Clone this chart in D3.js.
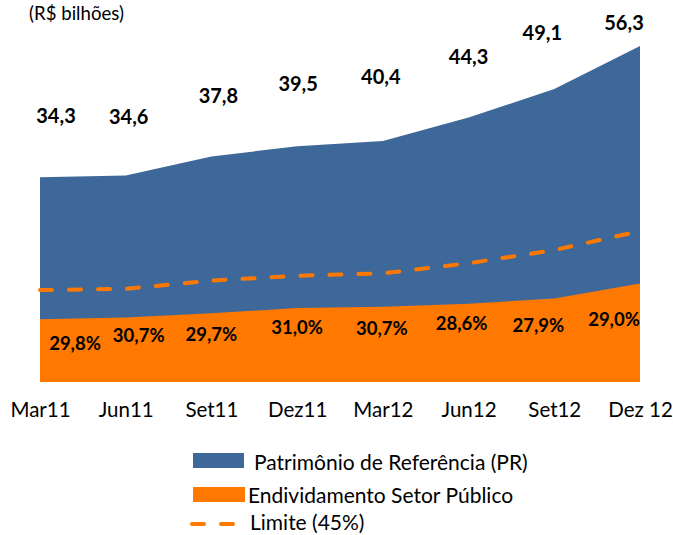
<!DOCTYPE html>
<html>
<head>
<meta charset="utf-8">
<script src="https://cdn.jsdelivr.net/npm/d3@7"></script>
<style>
  html, body { margin: 0; padding: 0; background: #fff; }
  svg { display: block; font-family: Lato, "Open Sans", sans-serif; }
</style>
</head>
<body>
<svg id="chart" width="673" height="535"></svg>
<script>
// ---- data ----
const categories = ["Mar11", "Jun11", "Set11", "Dez11", "Mar12", "Jun12", "Set12", "Dez 12"];
const patrimonio = [34.3, 34.6, 37.8, 39.5, 40.4, 44.3, 49.1, 56.3];
const endividamento = [10.5, 10.8, 11.5, 12.4, 12.6, 13.1, 14.0, 16.5];
const limite = [15.4, 15.6, 17.0, 17.8, 18.2, 19.9, 22.1, 25.3];
const percentuais = ["29,8%", "30,7%", "29,7%", "31,0%", "30,7%", "28,6%", "27,9%", "29,0%"];
const legendLabels = ["Patrimônio de Referência (PR)", "Endividamento Setor Público", "Limite (45%)"];
const unitLabel = "(R$ bilhões)";

// ---- layout (label nudges, in pixels) ----
const prLabelDx = [16, 3, 7, 1, -2, 0, -12, -16];
const prLabelDy = [-62, -60, -61, -63, -65, -62, -57, -24];
const pctLabelDx = [35, 13, 0, 0, -1, -7, -16, -26];
const pctLabelDy = [24, 17, 21, 19, 21, 19, 27, 35];

// ---- styles ----
const BLUE = "#3E6899";
const ORANGE = "#FF7800";

const svg = d3.select("#chart");
const x = d3.scalePoint().domain(categories).range([40, 640]);
const y = d3.scaleLinear().domain([0, 60]).range([382, 382 - 60 * 5.968]);

const rows = categories.map((c, i) => ({
  c, i, pr: patrimonio[i], end: endividamento[i], lim: limite[i], pct: percentuais[i]
}));

const fmt = d3.formatLocale({ decimal: ",", thousands: ".", grouping: [3], currency: ["R$", ""] }).format(".1f");

function fitFont(sel, target) {
  const node = sel.node();
  const fs = parseFloat(sel.attr("font-size"));
  const w = node.getComputedTextLength();
  if (w > 0) sel.attr("font-size", (fs * target / w).toFixed(2));
}

// areas
svg.append("path")
  .datum(rows)
  .attr("fill", BLUE)
  .attr("d", d3.area().x(d => x(d.c)).y0(y(0)).y1(d => y(d.pr)));

svg.append("path")
  .datum(rows)
  .attr("fill", ORANGE)
  .attr("d", d3.area().x(d => x(d.c)).y0(y(0)).y1(d => y(d.end)));

// limit dashed line
svg.append("path")
  .datum(rows)
  .attr("fill", "none")
  .attr("stroke", ORANGE)
  .attr("stroke-width", 4)
  .attr("stroke-linecap", "round")
  .attr("stroke-dasharray", "12 17")
  .attr("d", d3.line().x(d => x(d.c)).y(d => y(d.lim)));

// PR labels
svg.append("g").selectAll("text")
  .data(rows).join("text")
  .attr("x", d => x(d.c) + prLabelDx[d.i])
  .attr("y", d => y(d.pr) + prLabelDy[d.i])
  .attr("text-anchor", "middle")
  .attr("dominant-baseline", "central")
  .attr("font-weight", "bold")
  .attr("font-size", 20)
  .attr("fill", "#000")
  .text(d => fmt(d.pr));

// percent labels
svg.append("g").selectAll("text")
  .data(rows).join("text")
  .attr("x", d => x(d.c) + pctLabelDx[d.i])
  .attr("y", d => y(d.end) + pctLabelDy[d.i])
  .attr("text-anchor", "middle")
  .attr("dominant-baseline", "central")
  .attr("font-weight", "bold")
  .attr("font-size", 18.5)
  .attr("fill", "#000")
  .text(d => d.pct);

// x axis (labels only)
const xAxis = d3.axisBottom(x).tickSize(0).tickPadding(0);
const gx = svg.append("g").attr("transform", "translate(0,402)").call(xAxis);
gx.select(".domain").remove();
gx.selectAll("text")
  .attr("font-family", "Lato, sans-serif")
  .attr("font-size", 20.5)
  .attr("fill", "#000");

// unit label
const unit = svg.append("text")
  .attr("x", 29).attr("y", 13)
  .attr("dominant-baseline", "central")
  .attr("font-size", 16)
  .attr("fill", "#000")
  .text(unitLabel);
fitFont(unit, 95);

// legend
const lg = svg.append("g");
lg.append("rect").attr("x", 193).attr("y", 453).attr("width", 51).attr("height", 15).attr("fill", BLUE);
lg.append("rect").attr("x", 193).attr("y", 487).attr("width", 52).attr("height", 15).attr("fill", ORANGE);
lg.append("line").attr("x1", 192).attr("x2", 240).attr("y1", 524).attr("y2", 524)
  .attr("stroke", ORANGE).attr("stroke-width", 4).attr("stroke-linecap", "round").attr("stroke-dasharray", "12 17");
const legendPos = [[254, 461], [248, 494], [250, 521]];
const legTexts = lg.selectAll("text.leg").data(legendLabels).join("text")
  .attr("class", "leg")
  .attr("x", (d, i) => legendPos[i][0])
  .attr("y", (d, i) => legendPos[i][1])
  .attr("dominant-baseline", "central")
  .attr("font-size", 19)
  .attr("fill", "#000")
  .text(d => d);
// size legend font so the first entry spans the reference width
const first = d3.select(legTexts.nodes()[0]);
fitFont(first, 283);
legTexts.attr("font-size", Math.min(21, parseFloat(first.attr("font-size"))));
</script>
</body>
</html>
